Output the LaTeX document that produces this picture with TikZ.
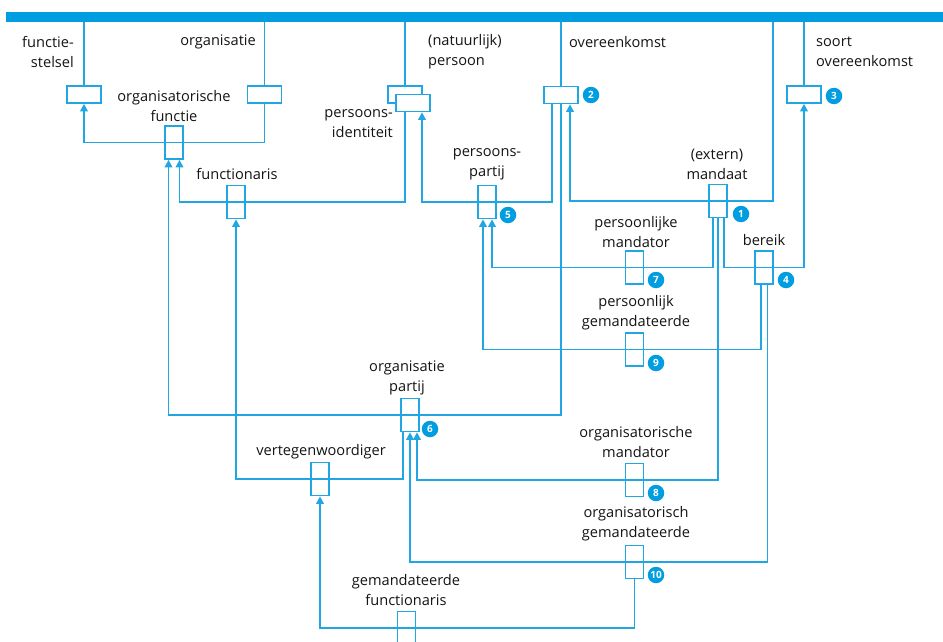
\documentclass[tikz,border=0pt]{standalone}
\usepackage{fontspec}
\setmainfont{Open Sans}
\usetikzlibrary{arrows.meta}
\definecolor{barblue}{RGB}{0,158,224}
\definecolor{lineblue}{RGB}{32,166,226}
\definecolor{txt}{RGB}{20,20,20}

\begin{document}
\begin{tikzpicture}[x=1pt,y=-1pt,
  ln/.style={draw=lineblue,line width=1.7pt},
  arr/.style={ln,-{Triangle[width=7.5pt,length=7.5pt]}},
  hbox/.style={draw=lineblue,line width=1.7pt,fill=white,minimum width=34pt,minimum height=17pt,inner sep=0pt},
  vbox/.style={draw=lineblue,line width=1.7pt,fill=white,minimum width=18pt,minimum height=33pt,inner sep=0pt},
  lbl/.style={text=txt,font=\fontsize{14.6}{20}\selectfont,inner sep=0pt,align=center},
  badge/.style={circle,fill=barblue,text=white,inner sep=0pt,minimum size=16.5pt,font=\fontsize{10}{10}\selectfont\bfseries},
]
\fill[white] (0,0) rectangle (943,642);
\useasboundingbox (0,0) rectangle (943,642);

% top bar
\node[fill=barblue,minimum width=937pt,minimum height=10pt,inner sep=0pt] (bar) at (474.5,17) {};

% object type boxes hanging from the bar
\node[hbox] (fs) at (84,94.5) {};
\node[hbox] (org) at (264.5,94.5) {};
\node[hbox] (pidback) at (405,94.5) {};
\node[hbox] (pid) at (413,103) {};
\node[hbox] (ovk) at (561,95) {};
\node[hbox] (sovk) at (804,94.5) {};

% fact type boxes
\node[vbox] (ofunc) at (174,142.5) {};
\node[vbox] (fnr) at (236,202) {};
\node[vbox] (ppartij) at (487,202) {};
\node[vbox] (mandaat) at (718,201) {};
\node[vbox] (pmandator) at (634.5,267.5) {};
\node[vbox] (bereik) at (764,267.5) {};
\node[vbox] (pgem) at (634.5,349.5) {};
\node[vbox] (opartij) at (410,415) {};
\node[vbox] (vertg) at (320,479) {};
\node[vbox] (omandator) at (634.5,480) {};
\node[vbox] (ogem) at (634.5,562) {};
\node[vbox] (gfunc) at (406.5,628) {};

\coordinate (mq) at (773,0);

% links to the bar
\draw[ln] (bar.south -| fs.north) -- (fs.north);
\draw[ln] (bar.south -| org.north) -- (org.north);
\draw[ln] (bar.south -| pidback.north) -- (pidback.north);
\draw[ln] (bar.south -| ovk.north) -- (ovk.north);
\draw[ln] (bar.south -| sovk.north) -- (sovk.north);
\draw[arr] (bar.south -| mq) |- (mandaat.center) -| ([xshift=9]ovk.south);

% role connectors
\draw[arr] (org.south) |- (ofunc.center) -| (fs.south);
\draw[arr] (pid.south -| pidback.south) |- (fnr.center) -| ([xshift=5.5]ofunc.south);
\draw[arr] (ovk.south) |- (opartij.center) -| ([xshift=-5.5]ofunc.south);
\draw[arr] ([xshift=-9]ovk.south) |- (ppartij.center) -| ([xshift=9]pid.south);
\draw[arr] ([xshift=-5]mandaat.south) |- (pmandator.center) -| ([xshift=5]ppartij.south);
\draw[arr] ([xshift=-3]bereik.south) |- (pgem.center) -| ([xshift=-4]ppartij.south);
\draw[arr] ([xshift=6]mandaat.south) |- (bereik.center) -| (sovk.south);
\draw[arr] (mandaat.south) |- (omandator.center) -| ([xshift=7]opartij.south);
\draw[arr] ([xshift=3.5]bereik.south) |- (ogem.center) -| (opartij.south);
\draw[arr] ([xshift=-7]opartij.south) |- (vertg.center) -| (fnr.south);
\draw[arr] (ogem.south) |- (gfunc.center) -| (vertg.south);

% labels
\node[lbl,anchor=east,align=right] (tfs) at (74,52) {functie-\\stelsel};
\node[lbl,anchor=east] (torg) at (256,42) {organisatie};
\node[lbl] (tofunc) at (174,106.5) {organisatorische\\functie};
\node[lbl,anchor=west,align=left] (tpers) at (428,52) {(natuurlijk)\\persoon};
\node[lbl,anchor=east,align=right] (tpid) at (393,124) {persoons-\\identiteit};
\node[lbl,anchor=west] (tovk) at (569,42) {overeenkomst};
\node[lbl,anchor=west,align=left] (tsovk) at (816,52) {soort\\overeenkomst};
\node[lbl] (tfnr) at (237,174) {functionaris};
\node[lbl] (tppartij) at (487,164) {persoons-\\partij};
\node[lbl] (tmandaat) at (717,164) {(extern)\\mandaat};
\node[lbl] (tpmandator) at (636,232) {persoonlijke\\mandator};
\node[lbl] (tbereik) at (764,240) {bereik};
\node[lbl] (tpgem) at (636,313) {persoonlijk\\gemandateerde};
\node[lbl] (topartij) at (407,377.5) {organisatie\\partij};
\node[lbl] (tvertg) at (321,452) {vertegenwoordiger};
\node[lbl] (tomandator) at (636,442) {organisatorische\\mandator};
\node[lbl] (togem) at (636,524) {organisatorisch\\gemandateerde};
\node[lbl] (tgfunc) at (406,590.5) {gemandateerde\\functionaris};

% numbered badges
\node[badge] (b1) at (741,214) {1};
\node[badge] (b2) at (591,95) {2};
\node[badge] (b3) at (834,96) {3};
\node[badge] (b4) at (786,280) {4};
\node[badge] (b5) at (508,215) {5};
\node[badge] (b6) at (430,429) {6};
\node[badge] (b7) at (656,280) {7};
\node[badge] (b8) at (656,493) {8};
\node[badge] (b9) at (656,363) {9};
\node[badge] (b10) at (656,575) {10};
\end{tikzpicture}
\end{document}
